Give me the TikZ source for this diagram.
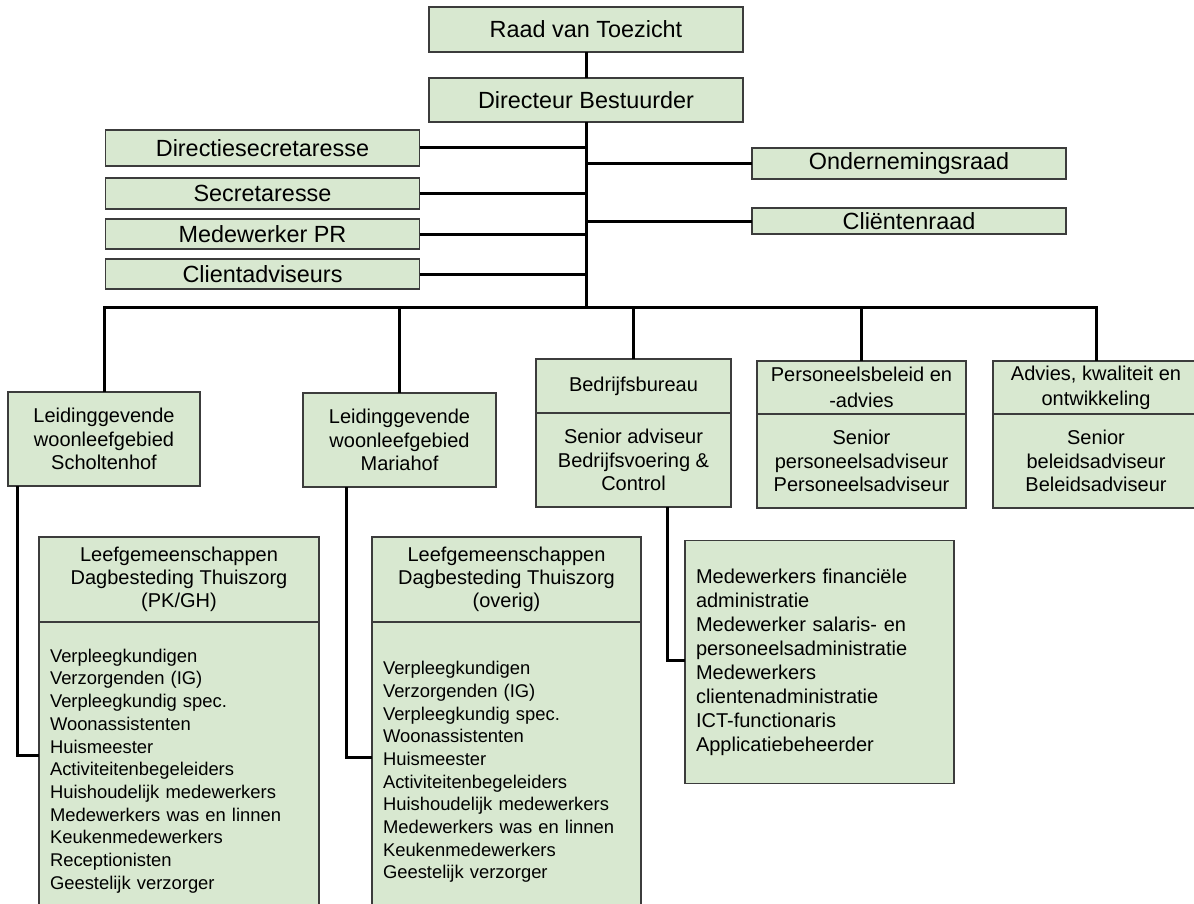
\documentclass[tikz,border=0pt]{standalone}
\usepackage{fontspec}
\setmainfont{Liberation Sans}
\usetikzlibrary{positioning}
\definecolor{boxgreen}{RGB}{216,232,208}
\definecolor{boxline}{RGB}{60,60,60}

\begin{document}
\begin{tikzpicture}[x=0.5pt,y=-0.5pt,
  orgbox/.style={rectangle,draw=boxline,fill=boxgreen,line width=0.6pt,inner sep=0pt,outer sep=0pt,align=center},
  headbox/.style={orgbox,font=\fontsize{11.7}{14}\selectfont,minimum width=157pt},
  unitbox/.style={orgbox,font=\fontsize{10}{11.65}\selectfont},
  listbox/.style={orgbox,align=left,inner xsep=5.5pt,font=\fontsize{9.2}{11.35}\selectfont},
  conn/.style={line width=1.5pt,black}
]
\useasboundingbox (0,0) rectangle (1194,904);
\node[headbox,minimum height=22.5pt] (raad) at (586,29.5) {Raad van Toezicht};
\node[headbox,minimum height=22pt] (dir) at (586,100) {Directeur Bestuurder};
\node[headbox,minimum height=18pt] (dsec) at (262.5,148) {Directiesecretaresse};
\node[headbox,minimum height=15.5pt] (sec) at (262.5,193.5) {Secretaresse};
\node[headbox,minimum height=15pt] (pr) at (262.5,234) {Medewerker PR};
\node[headbox,minimum height=15pt] (cadv) at (262.5,274) {Clientadviseurs};
\node[headbox,minimum height=15.5pt] (ond) at (909,163.5) {Ondernemingsraad};
\node[headbox,minimum height=13pt] (clr) at (909,221) {Cliëntenraad};

\node[unitbox,minimum width=96pt,minimum height=47pt] (sch) at (104,439) {Leidinggevende\\woonleefgebied\\Scholtenhof};
\node[unitbox,minimum width=96.5pt,minimum height=47pt] (mar) at (399.5,440) {Leidinggevende\\woonleefgebied\\Mariahof};
\node[unitbox,minimum width=97.5pt,minimum height=27pt] (bedr) at (633.5,386) {Bedrijfsbureau};
\node[unitbox,minimum width=97.5pt,minimum height=47pt,below=0pt of bedr] (bedrbody) {Senior adviseur\\Bedrijfsvoering \&\\Control};
\node[unitbox,minimum width=104.5pt,minimum height=26.5pt] (pers) at (861.5,387.5) {Personeelsbeleid en\\[1.5pt]-advies};
\node[unitbox,minimum width=104.5pt,minimum height=47pt,below=0pt of pers] (persbody) {Senior\\personeelsadviseur\\Personeelsadviseur};
\node[unitbox,minimum width=103pt,minimum height=26.5pt] (adv) at (1096,387.5) {Advies, kwaliteit en\\[1pt]ontwikkeling};
\node[unitbox,minimum width=103pt,minimum height=47pt,below=0pt of adv] (advbody) {Senior\\beleidsadviseur\\Beleidsadviseur};

\node[unitbox,minimum width=140pt,minimum height=42.5pt] (lg1) at (179,579.5) {Leefgemeenschappen\\Dagbesteding Thuiszorg\\(PK/GH)};
\node[listbox,text width=129pt,minimum height=149pt,below=0pt of lg1] (lg1body) {Verpleegkundigen\\Verzorgenden (IG)\\Verpleegkundig spec.\\Woonassistenten\\Huismeester\\Activiteitenbegeleiders\\Huishoudelijk medewerkers\\Medewerkers was en linnen\\Keukenmedewerkers\\Receptionisten\\Geestelijk verzorger};
\node[unitbox,minimum width=134.5pt,minimum height=42.5pt] (lg2) at (506.5,579.5) {Leefgemeenschappen\\Dagbesteding Thuiszorg\\(overig)};
\node[listbox,text width=123.5pt,minimum height=150pt,below=0pt of lg2] (lg2body) {Verpleegkundigen\\Verzorgenden (IG)\\Verpleegkundig spec.\\Woonassistenten\\Huismeester\\Activiteitenbegeleiders\\Huishoudelijk medewerkers\\Medewerkers was en linnen\\Keukenmedewerkers\\Geestelijk verzorger};
\node[listbox,text width=123.5pt,minimum height=121.5pt,font=\fontsize{10}{12}\selectfont] (med) at (819.5,662) {Medewerkers financiële\\administratie\\Medewerker salaris- en\\personeelsadministratie\\Medewerkers\\clientenadministratie\\ICT-functionaris\\Applicatiebeheerder};

\coordinate (bus) at (586,307);
\draw[conn] (raad) -- (dir);
\draw[conn] (dir.south) -- (bus);
\foreach \n in {dsec,sec,pr,cadv} \draw[conn] (\n.east) -- (\n.east -| dir.south);
\foreach \n in {ond,clr} \draw[conn] (\n.west) -- (\n.west -| dir.south);
\foreach \n in {sch,mar,bedr,pers,adv} \draw[conn] (bus) -| (\n.north);
\draw[conn] ([xshift=4.5pt]sch.south west) |- ([yshift=8pt]lg1body.west);
\draw[conn] ([xshift=21.5pt]mar.south west) |- ([yshift=7.5pt]lg2body.west);
\draw[conn] ([xshift=65.5pt]bedrbody.south west) |- ([yshift=0.75pt]med.west);
\end{tikzpicture}
\end{document}
